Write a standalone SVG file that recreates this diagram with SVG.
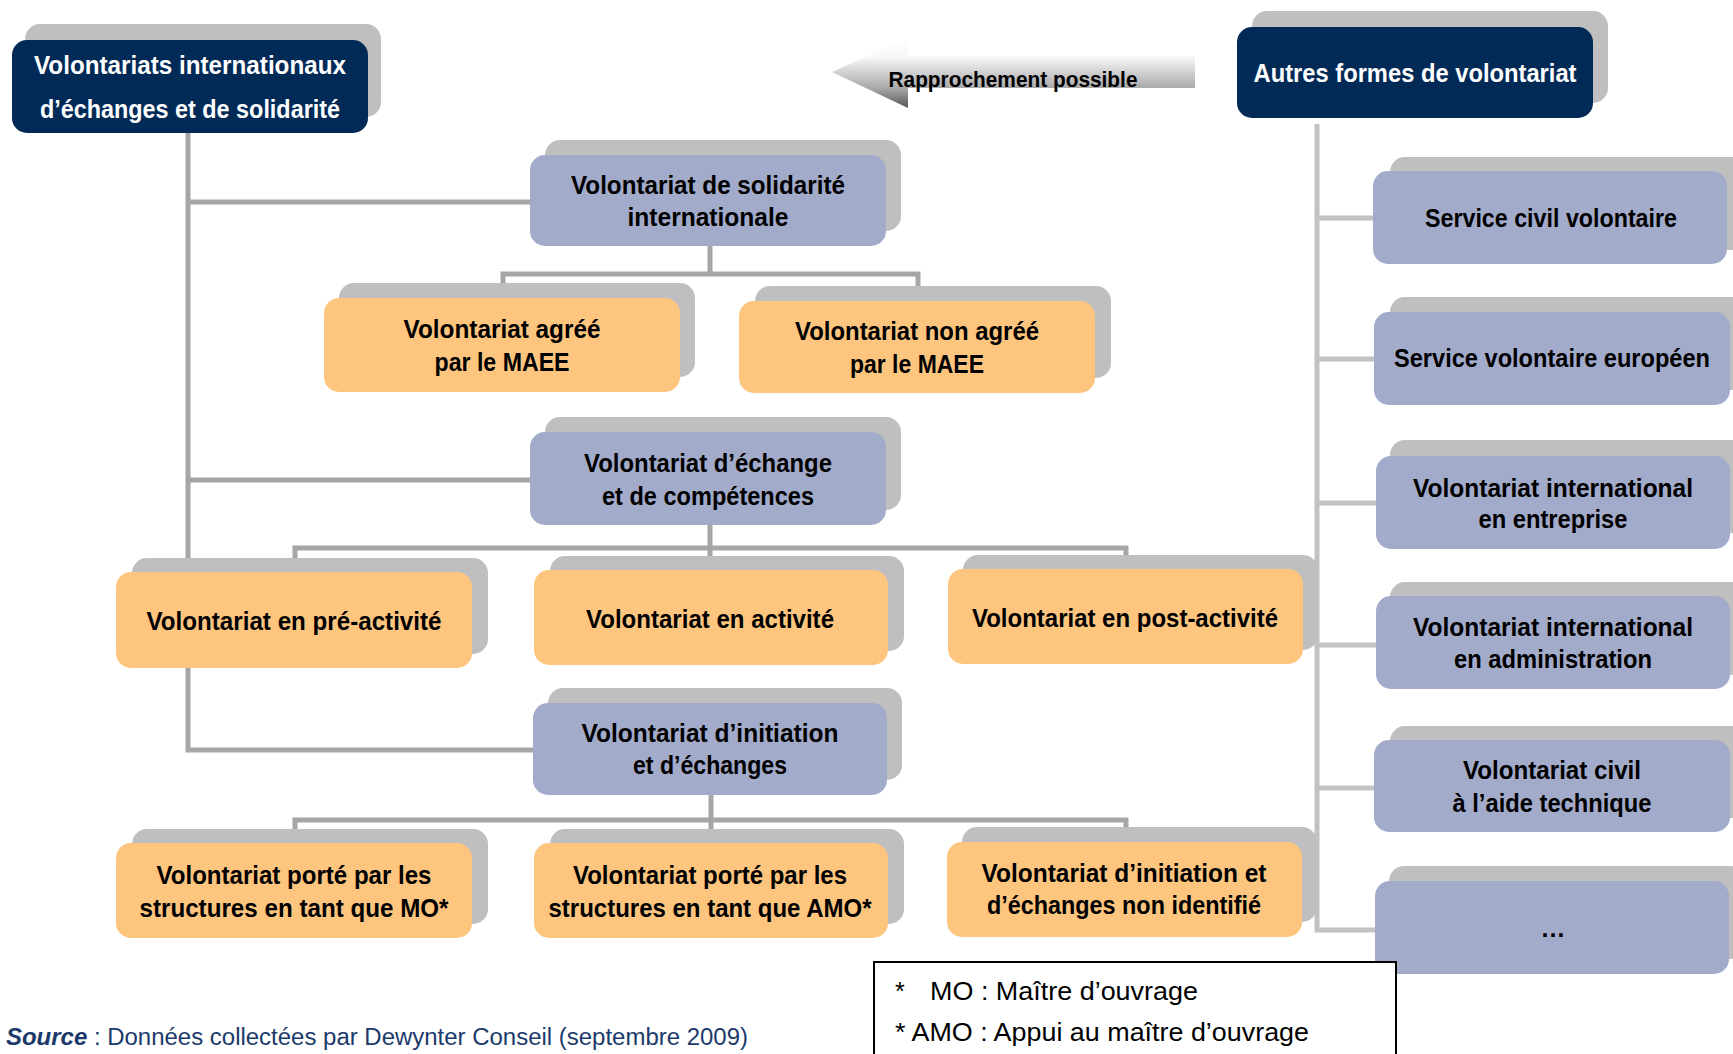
<svg xmlns="http://www.w3.org/2000/svg" width="1733" height="1054" viewBox="0 0 1733 1054">
<style>
.sh{fill:#bfbfbf}
.navy{fill:#022a57}
.blue{fill:#a3abca}
.orange{fill:#fec57f}
.t{font-family:"Liberation Sans",Arial,sans-serif;font-weight:bold;font-size:25px;fill:#000;text-anchor:middle}
.w{fill:#ffffff}
.ln{stroke:#a6a6a6;stroke-width:5;fill:none}
.ln2{stroke:#c2c2c2;stroke-width:5;fill:none}
.leg{font-family:"Liberation Sans",Arial,sans-serif;font-size:25px;fill:#000}
.src{font-family:"Liberation Sans",Arial,sans-serif;font-size:23px;fill:#1b3a6b}
</style>
<defs>
<linearGradient id="ag" x1="0" y1="0" x2="0" y2="1">
<stop offset="0" stop-color="#ffffff"/>
<stop offset="0.27" stop-color="#f8f8f8"/>
<stop offset="0.72" stop-color="#a8a8a8"/>
<stop offset="1" stop-color="#555555"/>
</linearGradient>
</defs>
<rect width="1733" height="1054" fill="#ffffff"/>

<g id="connectors">
<path class="ln" d="M188 133 V750 H533"/>
<path class="ln" d="M188 202 H530"/>
<path class="ln" d="M188 480 H530"/>
<path class="ln" d="M710 246 V274"/>
<path class="ln" d="M503 292 V274 H918 V292"/>
<path class="ln" d="M710 525 V570"/>
<path class="ln" d="M295 565 V548 H1126 V565"/>
<path class="ln" d="M711 795 V843"/>
<path class="ln" d="M295 838 V820 H1126 V838"/>
<path class="ln2" d="M1317 124 V930 H1376"/>
<path class="ln2" d="M1317 218 H1376 M1317 359 H1376 M1317 503 H1376 M1317 645 H1376 M1317 788 H1376"/>
</g>

<g id="arrow_rapprochement">
<polygon points="832,72 908,38 908,56 1195,56 1195,88 908,88 908,108" fill="url(#ag)"/>
<text class="t" x="1013" y="87" style="font-size:22px" textLength="249" lengthAdjust="spacingAndGlyphs">Rapprochement possible</text>
</g>

<g id="n_vies">
<rect class="sh" x="25" y="24" width="356" height="93" rx="15"/>
<rect class="navy" x="12" y="40" width="356" height="93" rx="15"/>
<text class="t w" x="190" y="74" textLength="312" lengthAdjust="spacingAndGlyphs">Volontariats internationaux</text>
<text class="t w" x="190" y="118" textLength="300" lengthAdjust="spacingAndGlyphs">d’échanges et de solidarité</text>
</g>

<g id="n_autres">
<rect class="sh" x="1252" y="11" width="356" height="92" rx="15"/>
<rect class="navy" x="1237" y="27" width="356" height="91" rx="15"/>
<text class="t w" x="1415" y="82" textLength="323" lengthAdjust="spacingAndGlyphs">Autres formes de volontariat</text>
</g>

<g id="n_vsi">
<rect class="sh" x="545" y="140" width="356" height="91" rx="15"/>
<rect class="blue" x="530" y="155" width="356" height="91" rx="15"/>
<text class="t" x="708" y="194" textLength="274" lengthAdjust="spacingAndGlyphs">Volontariat de solidarité</text>
<text class="t" x="708" y="226" textLength="161" lengthAdjust="spacingAndGlyphs">internationale</text>
</g>

<g id="n_agree">
<rect class="sh" x="339" y="283" width="356" height="94" rx="15"/>
<rect class="orange" x="324" y="298" width="356" height="94" rx="15"/>
<text class="t" x="502" y="338" textLength="197" lengthAdjust="spacingAndGlyphs">Volontariat agréé</text>
<text class="t" x="502" y="371" textLength="135" lengthAdjust="spacingAndGlyphs">par le MAEE</text>
</g>

<g id="n_nonagree">
<rect class="sh" x="755" y="286" width="356" height="92" rx="15"/>
<rect class="orange" x="739" y="301" width="356" height="92" rx="15"/>
<text class="t" x="917" y="340" textLength="244" lengthAdjust="spacingAndGlyphs">Volontariat non agréé</text>
<text class="t" x="917" y="373" textLength="134" lengthAdjust="spacingAndGlyphs">par le MAEE</text>
</g>

<g id="n_vec">
<rect class="sh" x="545" y="417" width="356" height="93" rx="15"/>
<rect class="blue" x="530" y="432" width="356" height="93" rx="15"/>
<text class="t" x="708" y="472" textLength="248" lengthAdjust="spacingAndGlyphs">Volontariat d’échange</text>
<text class="t" x="708" y="505" textLength="212" lengthAdjust="spacingAndGlyphs">et de compétences</text>
</g>

<g id="n_pre">
<rect class="sh" x="132" y="558" width="356" height="96" rx="15"/>
<rect class="orange" x="116" y="572" width="356" height="96" rx="15"/>
<text class="t" x="294" y="630" textLength="295" lengthAdjust="spacingAndGlyphs">Volontariat en pré-activité</text>
</g>

<g id="n_act">
<rect class="sh" x="550" y="556" width="354" height="95" rx="15"/>
<rect class="orange" x="534" y="570" width="354" height="95" rx="15"/>
<text class="t" x="710" y="628" textLength="248" lengthAdjust="spacingAndGlyphs">Volontariat en activité</text>
</g>

<g id="n_post">
<rect class="sh" x="963" y="555" width="355" height="95" rx="15"/>
<rect class="orange" x="948" y="569" width="355" height="95" rx="15"/>
<text class="t" x="1125" y="627" textLength="306" lengthAdjust="spacingAndGlyphs">Volontariat en post-activité</text>
</g>

<g id="n_vie">
<rect class="sh" x="548" y="688" width="354" height="92" rx="15"/>
<rect class="blue" x="533" y="703" width="354" height="92" rx="15"/>
<text class="t" x="710" y="742" textLength="257" lengthAdjust="spacingAndGlyphs">Volontariat d’initiation</text>
<text class="t" x="710" y="774" textLength="154" lengthAdjust="spacingAndGlyphs">et d’échanges</text>
</g>

<g id="n_mo">
<rect class="sh" x="132" y="829" width="356" height="95" rx="15"/>
<rect class="orange" x="116" y="843" width="356" height="95" rx="15"/>
<text class="t" x="294" y="884" textLength="275" lengthAdjust="spacingAndGlyphs">Volontariat porté par les</text>
<text class="t" x="294" y="917" textLength="309" lengthAdjust="spacingAndGlyphs">structures en tant que MO*</text>
</g>

<g id="n_amo">
<rect class="sh" x="550" y="829" width="354" height="95" rx="15"/>
<rect class="orange" x="534" y="843" width="354" height="95" rx="15"/>
<text class="t" x="710" y="884" textLength="274" lengthAdjust="spacingAndGlyphs">Volontariat porté par les</text>
<text class="t" x="710" y="917" textLength="323" lengthAdjust="spacingAndGlyphs">structures en tant que AMO*</text>
</g>

<g id="n_nonid">
<rect class="sh" x="962" y="827" width="355" height="95" rx="15"/>
<rect class="orange" x="947" y="842" width="355" height="95" rx="15"/>
<text class="t" x="1124" y="882" textLength="285" lengthAdjust="spacingAndGlyphs">Volontariat d’initiation et</text>
<text class="t" x="1124" y="914" textLength="274" lengthAdjust="spacingAndGlyphs">d’échanges non identifié</text>
</g>

<g id="n_scv">
<rect class="sh" x="1390" y="157" width="356" height="93" rx="15"/>
<rect class="blue" x="1373" y="171" width="354" height="93" rx="15"/>
<text class="t" x="1551" y="227" textLength="252" lengthAdjust="spacingAndGlyphs">Service civil volontaire</text>
</g>

<g id="n_sve">
<rect class="sh" x="1390" y="297" width="356" height="93" rx="15"/>
<rect class="blue" x="1374" y="312" width="356" height="93" rx="15"/>
<text class="t" x="1552" y="367" textLength="316" lengthAdjust="spacingAndGlyphs">Service volontaire européen</text>
</g>

<g id="n_vient">
<rect class="sh" x="1390" y="440" width="356" height="93" rx="15"/>
<rect class="blue" x="1376" y="456" width="354" height="93" rx="15"/>
<text class="t" x="1553" y="497" textLength="280" lengthAdjust="spacingAndGlyphs">Volontariat international</text>
<text class="t" x="1553" y="528" textLength="149" lengthAdjust="spacingAndGlyphs">en entreprise</text>
</g>

<g id="n_viadm">
<rect class="sh" x="1390" y="582" width="356" height="93" rx="15"/>
<rect class="blue" x="1376" y="596" width="354" height="93" rx="15"/>
<text class="t" x="1553" y="636" textLength="280" lengthAdjust="spacingAndGlyphs">Volontariat international</text>
<text class="t" x="1553" y="668" textLength="198" lengthAdjust="spacingAndGlyphs">en administration</text>
</g>

<g id="n_vcat">
<rect class="sh" x="1390" y="726" width="356" height="92" rx="15"/>
<rect class="blue" x="1374" y="740" width="356" height="92" rx="15"/>
<text class="t" x="1552" y="779" textLength="178" lengthAdjust="spacingAndGlyphs">Volontariat civil</text>
<text class="t" x="1552" y="812" textLength="199" lengthAdjust="spacingAndGlyphs">à l’aide technique</text>
</g>

<g id="n_etc">
<rect class="sh" x="1389" y="866" width="356" height="93" rx="15"/>
<rect class="blue" x="1375" y="881" width="354" height="93" rx="15"/>
<text class="t" x="1553" y="937">…</text>
</g>

<g id="legend">
<rect x="874" y="962" width="522" height="110" fill="#ffffff" stroke="#000000" stroke-width="2"/>
<text class="leg" x="895" y="1000">*</text>
<text class="leg" x="930" y="1000" textLength="268" lengthAdjust="spacingAndGlyphs">MO : Maître d’ouvrage</text>
<text class="leg" x="895" y="1041" textLength="414" lengthAdjust="spacingAndGlyphs">* AMO : Appui au maître d’ouvrage</text>
</g>

<g id="source">
<text class="src" x="6" y="1045" textLength="742" lengthAdjust="spacingAndGlyphs"><tspan font-weight="bold" font-style="italic">Source</tspan> : Données collectées par Dewynter Conseil (septembre 2009)</text>
</g>
</svg>
